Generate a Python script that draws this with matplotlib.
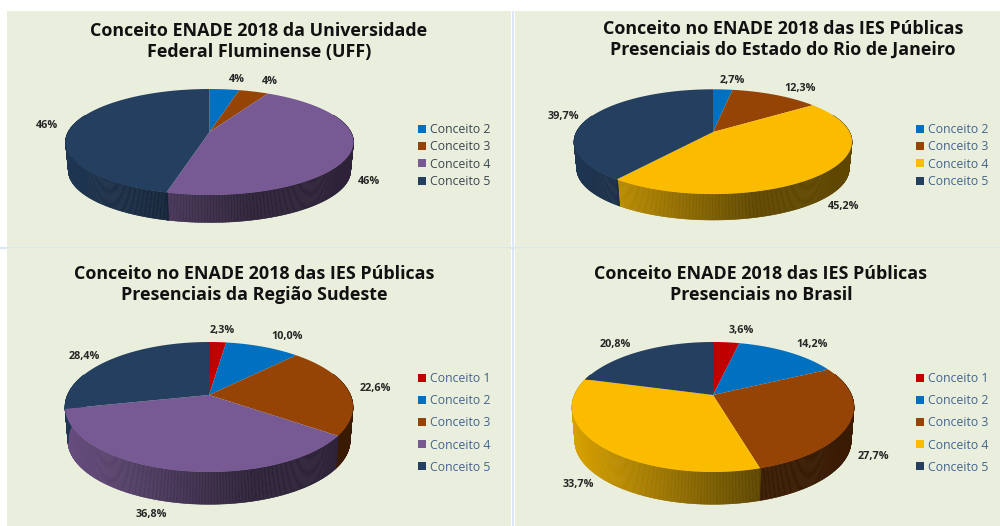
import numpy as np
import matplotlib
matplotlib.use("Agg")
import matplotlib.pyplot as plt
from matplotlib.collections import PolyCollection
from matplotlib.patches import Rectangle, Patch
from matplotlib.path import Path
from matplotlib.transforms import Affine2D, Transform
from matplotlib.colors import to_rgb

W, H = 1000, 526
FONT = "Open Sans"

C1, C2, C3, C4, C5 = "#C00000", "#0070C0", "#964405", "#FBBC00", "#243F60"
PURPLE = "#775A93"
BG = "#EAEFDD"
EDGE = "#DCE6F2"

# Series
titles = [
    "Conceito ENADE 2018 da Universidade\nFederal Fluminense (UFF)",
    "Conceito no ENADE 2018 das IES Públicas\nPresenciais do Estado do Rio de Janeiro",
    "Conceito no ENADE 2018 das IES Públicas\nPresenciais da Região Sudeste",
    "Conceito ENADE 2018 das IES Públicas\nPresenciais no Brasil",
]
uff_cats = ["Conceito 2", "Conceito 3", "Conceito 4", "Conceito 5"]
uff_vals = [4, 4, 46, 46]
rj_cats = ["Conceito 2", "Conceito 3", "Conceito 4", "Conceito 5"]
rj_vals = [2.7, 12.3, 45.2, 39.7]
se_cats = ["Conceito 1", "Conceito 2", "Conceito 3", "Conceito 4", "Conceito 5"]
se_vals = [2.3, 10.0, 22.6, 36.8, 28.4]
br_cats = ["Conceito 1", "Conceito 2", "Conceito 3", "Conceito 4", "Conceito 5"]
br_vals = [3.6, 14.2, 27.7, 33.7, 20.8]

panels = [
    dict(cats=uff_cats, vals=uff_vals, fmt="{:.0f}%", cols=[C2, C3, PURPLE, C5],
         cx=209.5, cy=142, rx=144, ry=53, a=0.19, depth=0.539,
         rect=(7, 11, 504, 236), title_xy=(259, 41.5), tsize=12.9,
         label_xy=[(237, 80), (270, 82), (369, 181), (47, 126)],
         leg_x=418, leg_y=155.5, lcol="#3A4650"),
    dict(cats=rj_cats, vals=rj_vals, fmt="{:.1f}%", cols=[C2, C3, C4, C5],
         cx=713, cy=141.7, rx=139, ry=52.4, a=0.185, depth=0.514,
         rect=(515, 11, 485, 236), title_xy=(783, 39.5), tsize=12.9,
         label_xy=[(732, 81), (800, 89), (844, 206), (563, 116)],
         leg_x=916, leg_y=155.5, lcol="#44648C"),
    dict(cats=se_cats, vals=se_vals, fmt="{:.1f}%", cols=[C1, C2, C3, PURPLE, C5],
         cx=209, cy=407, rx=144, ry=65, a=0.185, depth=0.517,
         rect=(7, 248, 504, 278), title_xy=(254, 284.5), tsize=12.9,
         label_xy=[(222, 331), (287, 336), (375, 389), (151, 515), (84, 356)],
         leg_x=418, leg_y=423, lcol="#44648C"),
    dict(cats=br_cats, vals=br_vals, fmt="{:.1f}%", cols=[C1, C2, C3, C4, C5],
         cx=713, cy=407, rx=141, ry=65, a=0.185, depth=0.517,
         rect=(515, 248, 485, 278), title_xy=(761, 284.5), tsize=12.9,
         label_xy=[(741, 331), (812, 345), (873, 456), (578, 485), (615, 345)],
         leg_x=916, leg_y=423, lcol="#44648C"),
]


class Tilt(Transform):
    """Projective map of the unit disc onto itself (perspective of a tilted pie)."""
    input_dims = output_dims = 2
    has_inverse = False

    def __init__(self, a):
        super().__init__()
        self.a = a

    def transform_non_affine(self, xy):
        xy = np.asarray(xy, float)
        d = 1 + self.a * xy[:, 1]
        return np.column_stack((xy[:, 0] * np.sqrt(1 - self.a ** 2) / d,
                                (xy[:, 1] + self.a) / d))

    def transform_path_non_affine(self, path):
        poly = path.to_polygons(Affine2D().scale(500), closed_only=False)[0] / 500
        return Path(self.transform_non_affine(poly))


def shade(t):
    return np.interp(t, [0, 0.65, 1], [0.86, 0.38, 0.38])


fig = plt.figure(figsize=(W / 100, H / 100), dpi=100, facecolor="white")
back = fig.add_axes([0, 0, 1, 1])
back.set_xlim(0, W)
back.set_ylim(H, 0)
back.axis("off")

back.add_patch(Rectangle((0, 246.5), W, 2, fc=EDGE, ec="none"))
back.add_patch(Rectangle((512, 11), 2, H, fc=EDGE, ec="none"))

for p in panels:
    x0, y0, w, h = p["rect"]
    back.add_patch(Rectangle((x0, y0), w, h, fc=BG, ec="none"))
    back.text(*p["title_xy"], p["title"] if "title" in p else titles[panels.index(p)],
              ha="center", va="center", fontsize=p["tsize"], fontweight="bold",
              family=FONT, color="#111111", linespacing=1.17)

    cx, cy, rx, ry = p["cx"], p["cy"], p["rx"], p["ry"]
    ax = fig.add_axes([(cx - rx) / W, 1 - (cy + ry) / H, 2 * rx / W, 2 * ry / H])
    wedges, _ = ax.pie(p["vals"], colors=p["cols"], startangle=90, counterclock=False,
                       radius=1, wedgeprops=dict(linewidth=0))
    ax.set_aspect("auto")
    ax.set_xlim(-1, 1)
    ax.set_ylim(-1, 1)
    tilt = Tilt(p["a"])
    for wd in wedges:
        wd.set_transform(tilt + ax.transData)
        wd.set_zorder(3)
        wd.set_clip_on(False)

    # Side wall of each slice, shaded across the pie
    quads, fc = [], []
    for wd, col in zip(wedges, p["cols"]):
        ang = np.radians(np.arange(wd.theta1, wd.theta2 + 0.5, 0.5))
        ang = np.append(ang, np.radians(wd.theta2))
        top = tilt.transform_non_affine(np.column_stack((np.cos(ang), np.sin(ang))))
        bot = top * 0.98 - np.array([0, p["depth"]])
        rgb = np.array(to_rgb(col))
        for i in range(len(ang) - 1):
            if np.sin(ang[i]) > 0.35:
                continue
            quads.append([top[i], top[i + 1], bot[i + 1], bot[i]])
            fc.append(tuple(rgb * shade((top[i, 0] + 1) / 2)))
    ax.add_collection(PolyCollection(quads, facecolors=fc, edgecolors=fc,
                                     linewidths=0.4, zorder=1, clip_on=False))

    for v, (lx, ly) in zip(p["vals"], p["label_xy"]):
        back.text(lx, ly, p["fmt"].format(v).replace(".", ","), ha="center", va="center",
                  fontsize=7.8, fontweight="bold", family=FONT, color="#262626")

    n = len(p["cats"])
    spacing = 21 if n == 4 else 25.7
    fs = 8.8
    fpx = fs * 100 / 72
    handles = [Patch(facecolor=c, edgecolor="none") for c in p["cols"]]
    leg = ax.legend(handles, p["cats"], loc="center left", frameon=False,
                    bbox_to_anchor=(p["leg_x"] / W, 1 - p["leg_y"] / H),
                    bbox_transform=fig.transFigure, borderpad=0, borderaxespad=0,
                    prop=dict(family=FONT, size=fs), handlelength=0.62, handleheight=0.62,
                    handletextpad=0.34, labelspacing=(spacing - fpx * 1.36) / fpx)
    for t in leg.get_texts():
        t.set_color(p["lcol"])

fig.savefig("out.png", dpi=100, facecolor="white")
